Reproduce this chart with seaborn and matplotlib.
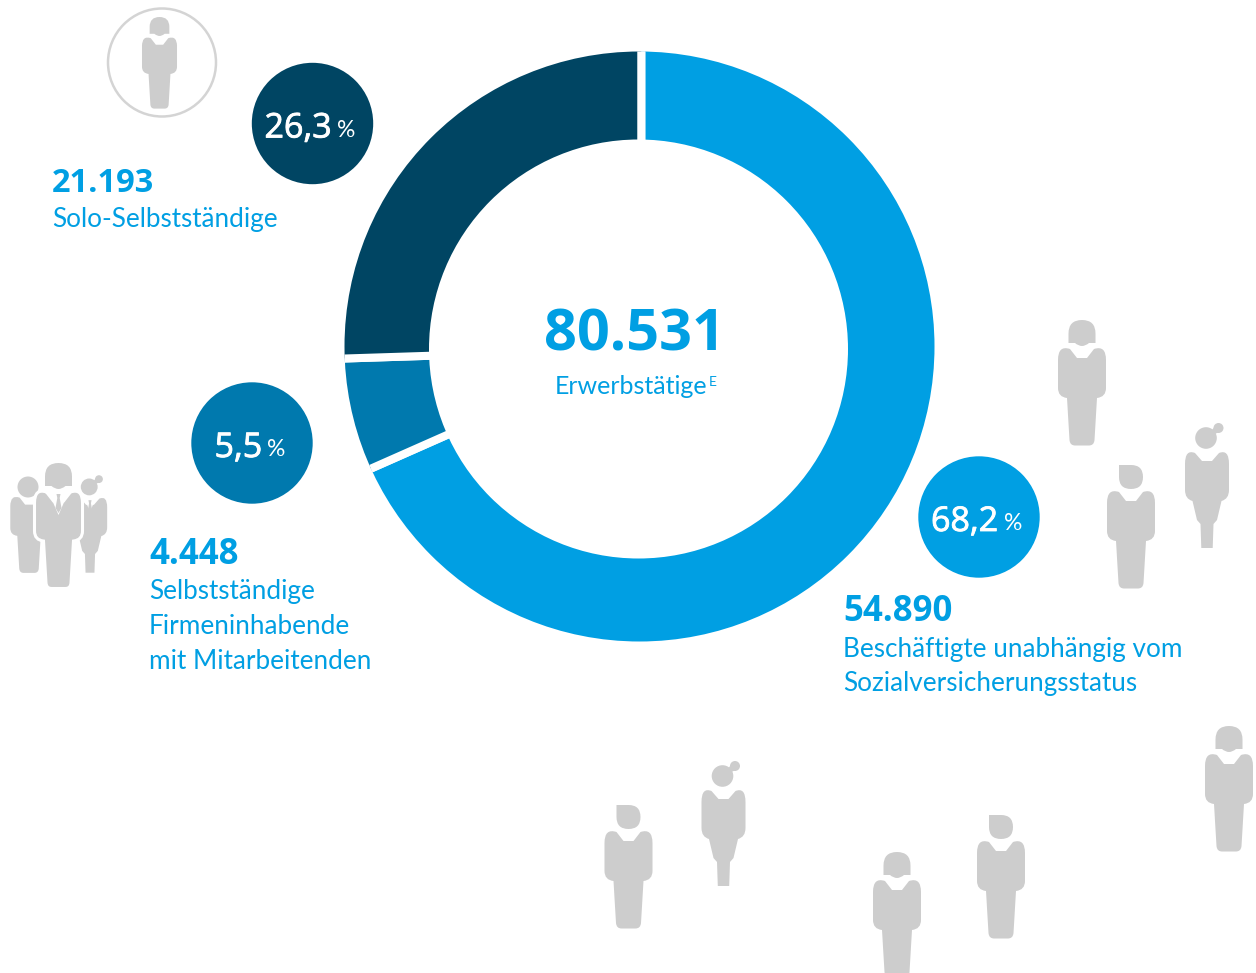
#!/usr/bin/env python3
import numpy as np
import matplotlib
matplotlib.use("Agg")
import matplotlib.pyplot as plt
import matplotlib.patheffects as pe
from matplotlib.patches import Circle, PathPatch, Polygon
from matplotlib.path import Path
import seaborn as sns

# Daten
gruppen = ["Beschäftigte", "Selbstständige Firmeninhabende", "Solo-Selbstständige"]
werte = [54890, 4448, 21193]
# Bogenlaengen (Prozent), weichen etwas von den Beschriftungen ab
bogen = [68.37, 6.12, 25.51]
farben = ["#009FE3", "#0079AE", "#004563"]
anteile = ["68,2", "5,5", "26,3"]
zahlen = ["54.890", "4.448", "21.193"]
beschriftung = [
    ["Beschäftigte unabhängig vom", "Sozialversicherungsstatus"],
    ["Selbstständige", "Firmeninhabende", "mit Mitarbeitenden"],
    ["Solo-Selbstständige"],
]
gesamt = "80.531"
gesamt_text = "Erwerbstätige"

BLAU = "#009FE3"
GRAU = "#CDCDCD"
SCHRIFT = "Lato"
FETT = ["Open Sans", "DejaVu Sans"]

sns.set_theme(style="white")
plt.rcParams["font.family"] = [SCHRIFT, "DejaVu Sans"]

M, L, C3 = Path.MOVETO, Path.LINETO, Path.CURVE3

# Koerper im lokalen Pixelraster: x von der Mitte, y von oben
KOERPER_MANN = [
    (M, -12, 29), (L, -5, 38), (L, 5, 38), (L, 12, 29),
    (C3, 24, 25), (C3, 24, 40), (L, 24, 68), (C3, 24, 77), (C3, 15, 78),
    (L, 12.5, 120), (C3, 12, 125.5), (C3, 7, 125.5), (L, -7, 125.5),
    (C3, -12, 125.5), (C3, -12.5, 120), (L, -15, 78), (C3, -24, 77), (C3, -24, 68),
    (L, -24, 40), (C3, -24, 25), (C3, -12, 29),
]
KOERPER_FRAU = [
    (M, -12, 29), (L, -5, 37), (L, 5, 37), (L, 12, 29),
    (C3, 22, 25), (C3, 22, 40), (L, 22, 66), (C3, 22, 75), (C3, 14.5, 77),
    (L, 10, 96), (L, 6.5, 100), (L, 5.7, 124), (L, -5.7, 124), (L, -6.5, 100), (L, -10, 96),
    (L, -14.5, 77), (C3, -22, 75), (C3, -22, 66), (L, -22, 40), (C3, -22, 25), (C3, -12, 29),
]
KOPF_BOB = [
    (M, -13.5, 23), (L, -13.5, 13.5), (C3, -13.5, 0), (C3, 0, 0), (C3, 13.5, 0), (C3, 13.5, 13.5),
    (L, 13.5, 23), (L, 7, 23), (C3, 3.5, 26), (C3, 0, 26), (C3, -3.5, 26), (C3, -7, 23), (L, -13.5, 23),
]
KOPF_SEITE = [
    (M, -12, 2), (L, 0, 2), (C3, 12, 2), (C3, 12, 14), (C3, 12, 26), (C3, 0, 26),
    (C3, -12, 26), (C3, -12, 14), (L, -12, 2),
]


def zeichne_pfad(ax, punkte, x, y, s=1.0, farbe=GRAU, kante=None, z=3):
    codes = [p[0] for p in punkte]
    verts = np.array([(x + p[1] * s, y + p[2] * s) for p in punkte])
    patch = PathPatch(Path(verts, codes), facecolor=farbe,
                      edgecolor=kante if kante else "none",
                      lw=2.2 if kante else 0, zorder=z)
    ax.add_patch(patch)


def mann(ax, x, y, kopf, s=1.0, z=3):
    zeichne_pfad(ax, KOERPER_MANN, x, y, s, z=z)
    if kopf == "bob":
        zeichne_pfad(ax, KOPF_BOB, x, y, s, z=z)
    elif kopf == "seite":
        zeichne_pfad(ax, KOPF_SEITE, x, y, s, z=z)


def frau(ax, x, y, s=1.0, z=3):
    zeichne_pfad(ax, KOERPER_FRAU, x, y, s, z=z)
    ax.add_patch(Circle((x - 1 * s, y + 14 * s), 10.8 * s, color=GRAU, lw=0, zorder=z))
    ax.add_patch(Circle((x + 11.5 * s, y + 4 * s), 5 * s, color=GRAU, lw=0, zorder=z))
    # Verbindung Kopf und Dutt
    ax.add_patch(Polygon([(x + 5 * s, y + 6 * s), (x + 9 * s, y + 1 * s),
                          (x + 14 * s, y + 7 * s), (x + 8 * s, y + 10 * s)],
                         color=GRAU, lw=0, zorder=z))


def krawatte(ax, x, y, s=1.0, breit=10, tief=52, z=4):
    ax.add_patch(Polygon([(x - breit * s, y + 29 * s), (x, y + tief * s), (x + breit * s, y + 29 * s)],
                         color="white", lw=0, zorder=z))
    tie = [(-2, 31), (2, 31), (1.2, 35), (3, 45), (0, 50), (-3, 45), (-1.2, 35)]
    ax.add_patch(Polygon([(x + a * s, y + b * s) for a, b in tie], color=GRAU, lw=0, zorder=z + 0.1))


fig = plt.figure(figsize=(12.56, 9.73), dpi=100)
ax = fig.add_axes([0, 0, 1, 1])

# y-Achse laeuft nach unten, daher counterclock=True fuer den Uhrzeigersinn
keile, _ = ax.pie(bogen, colors=sns.color_palette(farben), startangle=270, counterclock=True,
                  center=(641.3, 349), radius=330,
                  wedgeprops=dict(edgecolor="white", linewidth=5.8))
ax.set_xlim(0, 1256)
ax.set_ylim(973, 0)
ax.set_aspect("equal")
ax.axis("off")

# Aussen- und Innenkreis sind im Bild leicht gegeneinander versetzt
aussen = Circle((639.5, 346.5), 295, transform=ax.transData)
for keil in keile:
    keil.set_clip_on(True)  # pie schaltet das Clipping sonst ab
    keil.set_clip_path(aussen)
ax.add_patch(Circle((638.5, 349), 209.5, color="white", lw=0, zorder=1.5))

# Kreise mit Prozentwerten
kreise = [(979, 517), (252, 443), (312.5, 123.5)]
strich = [pe.withStroke(linewidth=0.6, foreground="white")]
for i, (kx, ky) in enumerate(kreise):
    ax.add_patch(Circle((kx, ky), 60.7, color=farben[i], lw=0, zorder=2))
    t = ax.text(kx - 48 if i != 1 else kx - 37.5, ky + 14, anteile[i], color="white", fontsize=24.5,
                family=FETT, ha="left", va="baseline", zorder=5)
    t.set_path_effects(strich)
    prozent_x = {0: kx + 25, 1: kx + 15, 2: kx + 25}[i]
    ax.text(prozent_x, ky + 13.5, "%", color="white", fontsize=16.5, ha="left", va="baseline", zorder=5)

# Texte
text_pos = [(843, 621, 656.5, 34), (149, 564, 599, 35), (52, 192, 226.5, 0)]
zahl_groesse = [25, 25, 23.5]
for i, (tx, ty, ty2, abstand) in enumerate(text_pos):
    ax.text(tx, ty, zahlen[i], color=BLAU, fontsize=zahl_groesse[i], fontweight="bold",
            family=FETT, ha="left", va="baseline")
    for j, zeile in enumerate(beschriftung[i]):
        ax.text(tx, ty2 + j * abstand, zeile, color=BLAU, fontsize=18.8, ha="left", va="baseline")

ax.text(543.5, 350.5, gesamt, color=BLAU, fontsize=41.5, fontweight="bold",
        family=FETT, ha="left", va="baseline", zorder=5)
ax.text(555, 393.5, gesamt_text, color=BLAU, fontsize=18, ha="left", va="baseline", zorder=5)
ax.text(709, 386.5, "E", color=BLAU, fontsize=10, ha="left", va="baseline", zorder=5)

# Figuren rechts und unten
mann(ax, 1082, 320, "bob")
mann(ax, 1131, 463, "seite")
frau(ax, 1207, 424)
mann(ax, 628.5, 803, "seite")
frau(ax, 723.5, 762)
mann(ax, 897, 852, "bob")
mann(ax, 1001, 813, "seite")
mann(ax, 1229, 726, "bob")

# Figur im Ring
ax.add_patch(Circle((162, 62.5), 54, facecolor="white", edgecolor="#D4D4D4", lw=1.8, zorder=2))
mann(ax, 159.5, 17, "bob", s=0.73)

# Dreiergruppe
mann(ax, 29, 475, None, s=0.78, z=3)
ax.add_patch(Circle((28, 487), 10.5, color=GRAU, lw=0, zorder=3))
frau(ax, 90, 476, s=0.78, z=3)
krawatte(ax, 90, 476, s=0.78, breit=7, tief=46)
zeichne_pfad(ax, KOERPER_MANN, 58.5, 463, 1.0, kante="white", z=5)
zeichne_pfad(ax, KOPF_BOB, 58.5, 463, 1.0, z=5)
krawatte(ax, 58.5, 463, z=6)

fig.savefig("out.png", dpi=100, facecolor="white")
